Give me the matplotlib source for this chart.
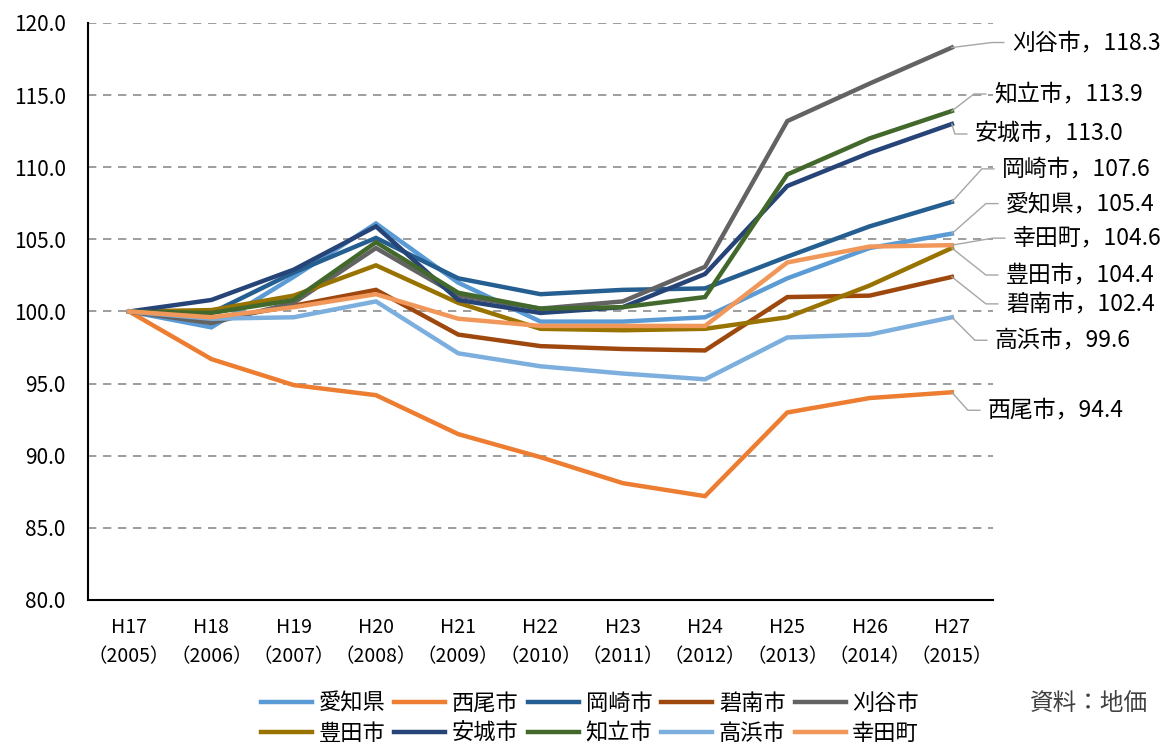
import matplotlib
matplotlib.use("Agg")
import matplotlib.pyplot as plt
from matplotlib.lines import Line2D
import numpy as np

plt.rcParams["font.family"] = ["Noto Sans CJK JP", "DejaVu Sans"]

years = ["H17\n（2005）", "H18\n（2006）", "H19\n（2007）", "H20\n（2008）",
         "H21\n（2009）", "H22\n（2010）", "H23\n（2011）", "H24\n（2012）",
         "H25\n（2013）", "H26\n（2014）", "H27\n（2015）"]

names = ["愛知県", "西尾市", "岡崎市", "碧南市", "刈谷市",
         "豊田市", "安城市", "知立市", "高浜市", "幸田町"]

aichi = [100.0, 98.9, 102.4, 106.1, 102.0, 99.3, 99.3, 99.6, 102.3, 104.4, 105.4]
nishio = [100.0, 96.7, 94.9, 94.2, 91.5, 89.9, 88.1, 87.2, 93.0, 94.0, 94.4]
okazaki = [100.0, 99.9, 102.7, 105.1, 102.3, 101.2, 101.5, 101.6, 103.8, 105.9, 107.6]
hekinan = [100.0, 99.4, 100.4, 101.5, 98.4, 97.6, 97.4, 97.3, 101.0, 101.1, 102.4]
kariya = [100.0, 99.2, 100.6, 104.4, 101.1, 100.2, 100.7, 103.1, 113.2, 115.8, 118.3]
toyota = [100.0, 100.1, 101.1, 103.2, 100.6, 98.8, 98.7, 98.8, 99.6, 101.8, 104.4]
anjo = [100.0, 100.8, 102.9, 105.9, 100.8, 99.9, 100.3, 102.6, 108.7, 111.0, 113.0]
chiryu = [100.0, 99.9, 100.8, 104.8, 101.3, 100.2, 100.3, 101.0, 109.5, 112.0, 113.9]
takahama = [100.0, 99.5, 99.6, 100.7, 97.1, 96.2, 95.7, 95.3, 98.2, 98.4, 99.6]
kota = [100.0, 99.6, 100.3, 101.2, 99.5, 99.0, 99.0, 99.0, 103.4, 104.5, 104.6]

series = [aichi, nishio, okazaki, hekinan, kariya, toyota, anjo, chiryu, takahama, kota]
colors = ["#5B9BD5", "#ED7D31", "#255E91", "#9E480E", "#636363",
          "#997300", "#264478", "#43682B", "#7CAFDD", "#F1975A"]

# end-label offsets in pixels (dx right, dy down) from the last point
label_offsets = {
    "刈谷市": (60, -5), "知立市": (42, -17), "安城市": (23, 10),
    "岡崎市": (50, -33), "愛知県": (54, -30), "幸田町": (61, -7),
    "豊田市": (54, 27), "碧南市": (54, 27), "高浜市": (43, 23),
    "西尾市": (36, 18),
}

fig = plt.figure(figsize=(11.7, 7.51), dpi=100)
ax = fig.add_axes([88 / 1170, 1 - 600 / 751, 905 / 1170, 577 / 751])

x = np.arange(len(years))
handles = []
for name, vals, c in zip(names, series, colors):
    ln, = ax.plot(x, vals, color=c, lw=3.2, solid_joinstyle="miter", label=name)
    handles.append(ln)

ax.set_xlim(-0.5, 10.5)
ax.set_ylim(80, 120)
ax.set_yticks(np.arange(80, 121, 5))
ax.set_yticklabels([f"{v:.1f}" for v in np.arange(80, 121, 5)], fontsize=15)
ax.set_xticks(x)
ax.set_xticklabels(years, fontsize=14, linespacing=1.5)
ax.tick_params(length=0, pad=12)
ax.tick_params(axis="y", pad=16)
for s in ["top", "right"]:
    ax.spines[s].set_visible(False)
for s in ["left", "bottom"]:
    ax.spines[s].set_linewidth(1.5)
    ax.spines[s].set_color("black")
for v in np.arange(85, 121, 5):
    ax.axhline(v, color="#8c8c8c", lw=1.2, ls=(0, (5, 4)), zorder=0)

# end labels with leader lines (drawn in figure pixels)
fig.canvas.draw()
H = fig.bbox.height
for name, vals in zip(names, series):
    px, py = ax.transData.transform((x[-1], vals[-1]))
    dx, dy = label_offsets[name]
    tx, ty = px + dx, py - dy
    ex = max(px + 2, tx - 20)
    fig.add_artist(Line2D([px, ex, tx - 8], [py, ty, ty], color="#a6a6a6",
                          lw=1, transform=None))
    fig.text(tx / fig.bbox.width, ty / H, f"{name}，{vals[-1]:.1f}",
             fontsize=16.5, ha="left", va="center")

order = [0, 5, 1, 6, 2, 7, 3, 8, 4, 9]
fig.legend([handles[i] for i in order], [names[i] for i in order],
           ncol=5, loc="upper left", bbox_to_anchor=(252 / 1170, 1 - 683 / 751),
           frameon=False, fontsize=16, handlelength=2.3, handletextpad=0.3,
           columnspacing=0.4, labelspacing=0.3, borderaxespad=0)

fig.text(1030 / 1170, 1 - 703 / 751, "資料：地価", fontsize=17,
         ha="left", va="center", color="#404040")

fig.savefig("out.png", dpi=100)
